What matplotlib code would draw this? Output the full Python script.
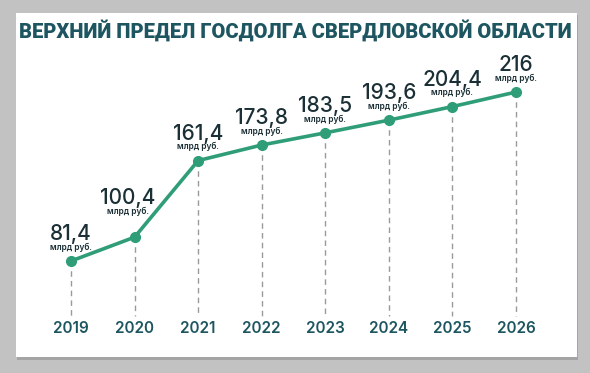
import matplotlib.pyplot as plt
from matplotlib.patches import Rectangle
import matplotlib.transforms as mtransforms

# Data
years = [2019, 2020, 2021, 2022, 2023, 2024, 2025, 2026]
debt = [81.4, 100.4, 161.4, 173.8, 183.5, 193.6, 204.4, 216]
labels = ["81,4", "100,4", "161,4", "173,8", "183,5", "193,6", "204,4", "216"]
unit = "млрд руб."
title = "ВЕРХНИЙ ПРЕДЕЛ ГОСДОЛГА СВЕРДЛОВСКОЙ ОБЛАСТИ"

line_color = "#2f9e78"
title_color = "#1d5660"
num_color = "#1b3036"

fig = plt.figure(figsize=(5.9, 3.73), dpi=100)
fig.patch.set_facecolor("#c2c2c2")

# card with a small shadow
fig.patches.append(Rectangle((0.029, 0.036), 0.951, 0.925, transform=fig.transFigure,
                             facecolor="#a4a4a4", edgecolor="none", zorder=-3))
fig.patches.append(Rectangle((0.027, 0.043), 0.951, 0.922, transform=fig.transFigure,
                             facecolor="white", edgecolor="none", zorder=-2))

ax = fig.add_axes([0, 0, 1, 1])
ax.set_facecolor("none")
ax.set_xlim(2017.883, 2027.164)
ax.set_ylim(-7.8, 289.3)
ax.axis("off")

trans = mtransforms.blended_transform_factory(ax.transData, ax.transAxes)

# dashed drop lines
for x, y in zip(years, debt):
    ax.plot([x, x], [y, 37.6], color="#9a9a9a", lw=1.0, ls=(0, (4, 3)), zorder=2)

ax.plot(years, debt, color=line_color, lw=2.6, marker="o", markersize=7,
        markerfacecolor=line_color, markeredgecolor=line_color, zorder=3)

for x, y, lab in zip(years, debt, labels):
    # the 2020 label is lifted and nudged left to stay clear of the steep segment
    dx, dy = (-5, 9) if x == 2020 else (0, 0)
    ax.annotate(lab, (x, y), xytext=(dx, 15 + dy), textcoords="offset points",
                ha="center", va="baseline", fontsize=15, color=num_color,
                family="Inter", fontweight="medium")
    ax.annotate(unit, (x, y), xytext=(dx, 8 + dy), textcoords="offset points",
                ha="center", va="baseline", fontsize=6, color=num_color,
                family="Inter", fontweight="semibold")
    ax.text(x, 0.119, str(x), transform=trans, ha="center", va="center",
            fontsize=11, color=title_color, family="Inter", fontweight="semibold")

fig.text(0.5, 0.917, title, ha="center", va="center", fontsize=14.5,
         color=title_color, family="Roboto", fontweight="heavy")

fig.savefig("out.png", dpi=100, facecolor=fig.get_facecolor())
